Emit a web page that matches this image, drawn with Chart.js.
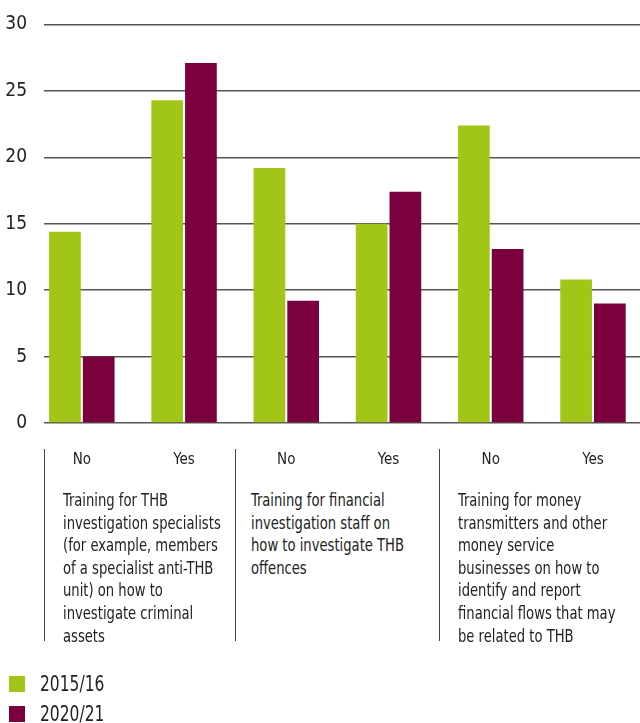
<!DOCTYPE html>
<html>
<head>
<meta charset="utf-8">
<script src="https://cdn.jsdelivr.net/npm/chart.js@4"></script>
<style>
  body { margin: 0; background: #fff; }
  #wrap { position: relative; width: 640px; height: 723px; overflow: hidden;
    font-family: "DejaVu Sans Condensed", "Roboto", sans-serif; color: #222; }
  #chart { position: absolute; left: 0; top: 0; }
  .sep { position: absolute; top: 449px; width: 1.4px; height: 192px; background: #444; }
  .desc { position: absolute; top: 489px; font-size: 17px; line-height: 22.6px; white-space: nowrap;
    transform: scaleX(0.86); transform-origin: 0 0; }
  .leg { position: absolute; left: 9px; font-size: 21px; line-height: 24px; }
  .leg span { position: absolute; left: 0; top: 4px; width: 16px; height: 16px; }
  .leg b { font-weight: normal; position: absolute; left: 31px; top: 0; white-space: nowrap;
    transform: scaleX(0.82); transform-origin: 0 0; }
</style>
</head>
<body>
<div id="wrap">
  <canvas id="chart" width="640" height="480"></canvas>
  <div class="sep" style="left:44px"></div>
  <div class="sep" style="left:234.5px"></div>
  <div class="sep" style="left:439px"></div>
  <div id="descs"></div>
  <div id="legend"></div>
</div>
<script>
// categories (answer per training type)
const answers = ["No", "Yes", "No", "Yes", "No", "Yes"];
const groups = [
  ["Training for THB", "investigation specialists", "(for example, members", "of a specialist anti-THB", "unit) on how to", "investigate criminal", "assets"],
  ["Training for financial", "investigation staff on", "how to investigate THB", "offences"],
  ["Training for money", "transmitters and other", "money service", "businesses on how to", "identify and report", "financial flows that may", "be related to THB"]
];
const seriesNames = ["2015/16", "2020/21"];
const values2015 = [14.4, 24.3, 19.2, 15.0, 22.4, 10.8];
const values2020 = [5.0, 27.1, 9.2, 17.4, 13.1, 9.0];
const yTicks = [0, 5, 10, 15, 20, 25, 30];
const colors = ["#a2c617", "#7a003e"];

const fontFam = '"DejaVu Sans Condensed", "Roboto", sans-serif';

const toPoints = (vals) => vals.map((v, i) => ({ x: i, y: v }));

new Chart(document.getElementById("chart"), {
  type: "bar",
  data: {
    datasets: [
      { label: seriesNames[0], data: toPoints(values2015), backgroundColor: colors[0] },
      { label: seriesNames[1], data: toPoints(values2020), backgroundColor: colors[1] }
    ]
  },
  options: {
    responsive: false,
    animation: false,
    layout: { padding: { top: 24.5, right: 0, bottom: 0, left: 0 } },
    datasets: { bar: { categoryPercentage: 0.66, barPercentage: 0.94 } },
    plugins: { legend: { display: false }, tooltip: { enabled: false } },
    scales: {
      x: {
        type: "linear",
        offset: false,
        bounds: "data",
        min: -0.37,
        max: 5.46,
        grid: { display: false },
        border: { display: false },
        afterBuildTicks: (s) => { s.ticks = answers.map((_, i) => ({ value: i })); },
        afterFit: (s) => { s.height = 57; s.paddingLeft = 0; s.paddingRight = 0; },
        ticks: {
          padding: 20,
          maxRotation: 0,
          autoSkip: false,
          color: "#222",
          font: { family: fontFam, size: 15 },
          callback: (v) => answers[v] ?? ""
        }
      },
      y: {
        min: 0,
        max: 30,
        afterBuildTicks: (s) => { s.ticks = yTicks.map((v) => ({ value: v })); },
        afterFit: (s) => { s.width = 44; s.paddingTop = 0; s.paddingBottom = 0; },
        grid: { color: "#555", lineWidth: 1.5, drawTicks: false },
        border: { display: false },
        ticks: { padding: 17, color: "#222", font: { family: fontFam, size: 19 } }
      }
    }
  }
});

// descriptions under each pair of bars
const descLeft = [62.5, 250.5, 457.5];
document.getElementById("descs").innerHTML = groups
  .map((lines, i) => `<div class="desc" style="left:${descLeft[i]}px">${lines.join("<br>")}</div>`)
  .join("");

// legend
document.getElementById("legend").innerHTML = seriesNames
  .map((n, i) => `<div class="leg" style="top:${672 + i * 29.5}px"><span style="background:${colors[i]}"></span><b>${n}</b></div>`)
  .join("");
</script>
</body>
</html>
